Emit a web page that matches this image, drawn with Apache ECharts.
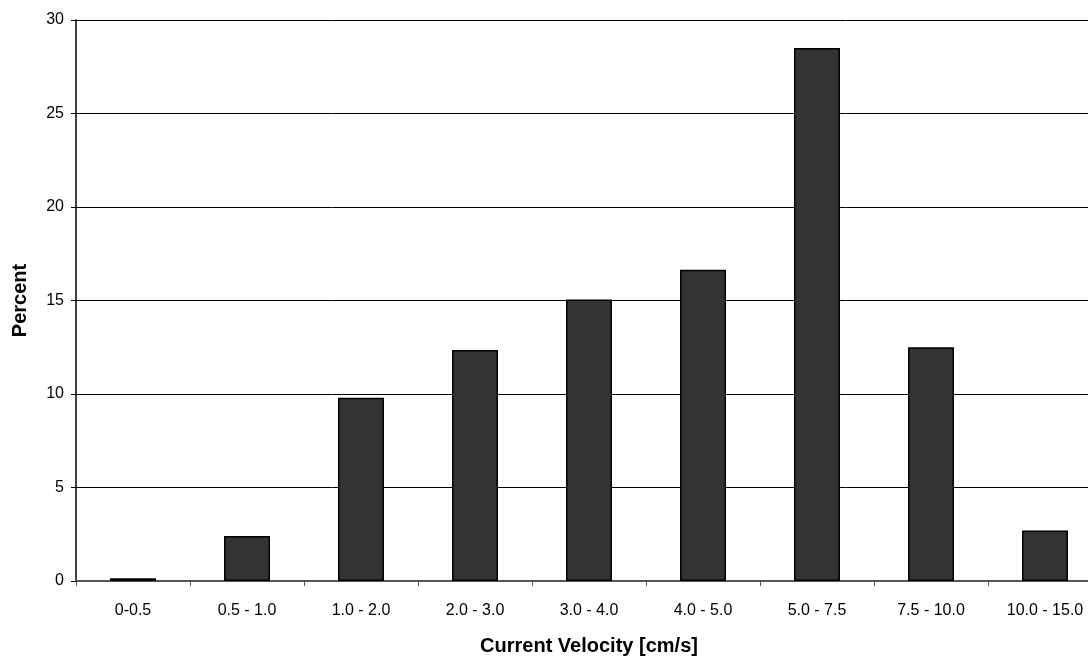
<!DOCTYPE html>
<html><head><meta charset="utf-8">
<script src="https://cdn.jsdelivr.net/npm/echarts@6/dist/echarts.min.js"></script>
<style>html,body{margin:0;padding:0;background:#fff;overflow:hidden;width:1088px;height:658px}#c{width:1102px;height:658px}</style>
</head><body><div id="c"></div>
<script>
const categories = ['0-0.5','0.5 - 1.0','1.0 - 2.0','2.0 - 3.0','3.0 - 4.0','4.0 - 5.0','5.0 - 7.5','7.5 - 10.0','10.0 - 15.0'];
const percent = [0.15, 2.4, 9.8, 12.35, 15.05, 16.65, 28.5, 12.5, 2.7];
const chart = echarts.init(document.getElementById('c'));
chart.setOption({
  animation: false,
  backgroundColor: '#fff',
  grid: {left: 76, right: 0, top: 20, bottom: 77, containLabel: false, outerBoundsMode: 'none'},
  xAxis: {
    type: 'category', data: categories,
    axisLine: {lineStyle: {color: '#555', width: 2}},
    axisTick: {show: true, alignWithLabel: false, length: 5, lineStyle: {color: '#555'}},
    axisLabel: {color: '#000', fontFamily: 'Liberation Sans', fontSize: 16, margin: 22},
    name: 'Current Velocity [cm/s]', nameLocation: 'middle', nameGap: 55,
    nameTextStyle: {fontFamily: 'Liberation Sans', fontSize: 20, fontWeight: 'bold', color: '#000'}
  },
  yAxis: {
    type: 'value', min: 0, max: 30, interval: 5,
    axisLine: {show: true, lineStyle: {color: '#000', width: 1.5}},
    axisTick: {show: true, length: 5, lineStyle: {color: '#000'}},
    splitLine: {show: true, lineStyle: {color: '#000', width: 1}},
    axisLabel: {color: '#000', fontFamily: 'Liberation Sans', fontSize: 16, margin: 12},
    name: 'Percent', nameLocation: 'middle', nameGap: 46, nameRotate: 90,
    nameTextStyle: {fontFamily: 'Liberation Sans', fontSize: 20, fontWeight: 'bold', color: '#000'}
  },
  series: [{
    type: 'bar', data: percent, barWidth: 46,
    itemStyle: {color: '#333333', borderColor: '#000', borderWidth: 1.5}
  }]
});
</script></body></html>
